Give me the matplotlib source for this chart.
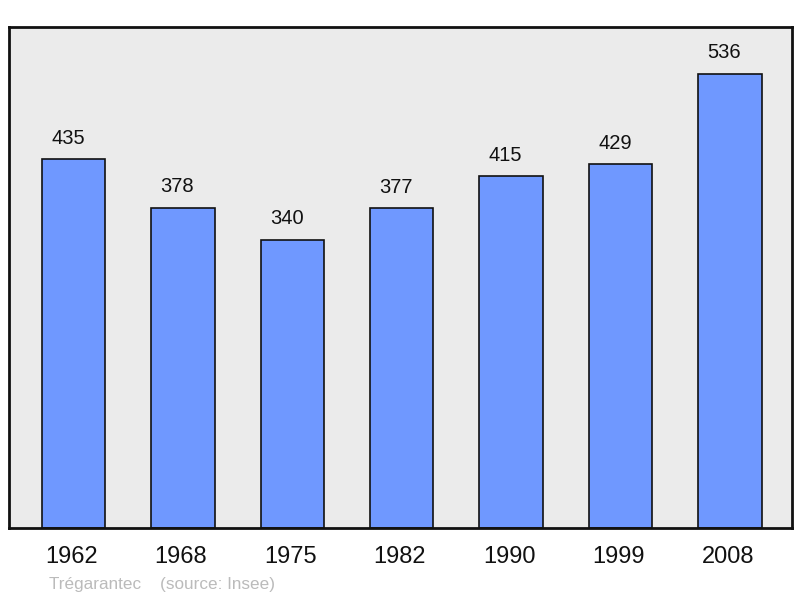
import matplotlib
matplotlib.use("Agg")
import matplotlib.pyplot as plt
import matplotlib.transforms as mtransforms

years = ["1962", "1968", "1975", "1982", "1990", "1999", "2008"]
population = [435, 378, 340, 377, 415, 429, 536]
commune = "Trégarantec"
source = "(source: Insee)"

plt.rcParams['font.family'] = ['Liberation Sans', 'DejaVu Sans']

fig = plt.figure(figsize=(8, 5.98), dpi=100)
ax = fig.add_axes([8.5/800, 1-528/598, (792-8.5)/800, (528-27)/598])
ax.set_facecolor('#ebebeb')
x = list(range(len(years)))
ax.bar(x, population, width=0.58, color='#6f98ff', edgecolor='#111111', linewidth=1.2, zorder=2)
for xi, v in zip(x, population):
    ax.annotate(str(v), (xi, v), xytext=(-4, 15.2), textcoords='offset points',
                ha='center', va='center', fontsize=14.5, color='#111111')
ax.set_xlim(-0.594, 6.568)
ax.set_ylim(0, 591)
ax.set_yticks([])
ax.set_xticks(x)
ax.set_xticklabels(years, fontsize=17, color='#111111')
ax.tick_params(axis='x', length=0, pad=13)
offset = mtransforms.ScaledTranslation(-2/100, 0, fig.dpi_scale_trans)
for lbl in ax.get_xticklabels():
    lbl.set_transform(lbl.get_transform() + offset)
for s in ax.spines.values():
    s.set_linewidth(2)
    s.set_color('#111111')
fig.text(49/800, 1-584/598, commune + "    " + source, fontsize=12.3, color='#bbbbbb', va='center', ha='left')
fig.savefig('out.png', dpi=100)
